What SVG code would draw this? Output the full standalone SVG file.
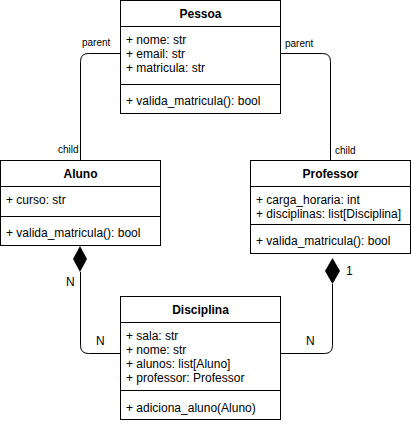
<svg xmlns="http://www.w3.org/2000/svg" width="411" height="424" viewBox="0 0 411 424">
<style>
.box{fill:#fff;stroke:#000;stroke-width:1}
.ln{stroke:#000;stroke-width:1;fill:none}
.t{font-family:"Liberation Sans",Arial,sans-serif;font-size:12px;fill:#000}
.h{font-family:"Liberation Sans",Arial,sans-serif;font-size:12px;font-weight:bold;fill:#000;text-anchor:middle}
.l{font-family:"Liberation Sans",Arial,sans-serif;font-size:10px;fill:#000}
.n{font-family:"Liberation Sans",Arial,sans-serif;font-size:12px;fill:#000}
</style>
<rect width="411" height="424" fill="#fff"/>
<g id="connectors">
<path class="ln" d="M120.5 53.5 H88.5 Q80.5 53.5 80.5 61.5 V160"/>
<path class="ln" d="M280.5 53.5 H322.5 Q330.5 53.5 330.5 61.5 V160"/>
<path class="ln" d="M80.5 272 V345.5 Q80.5 353.5 88.5 353.5 H120"/>
<path class="ln" d="M332.5 284 V345.5 Q332.5 353.5 324.5 353.5 H280"/>
<path d="M80 246 L87 259 L80 272 L73 259 Z" fill="#000"/>
<path d="M332.5 258 L340 271 L332.5 284 L325 271 Z" fill="#000"/>
<text class="l" x="82" y="46">parent</text>
<text class="l" x="285" y="47">parent</text>
<text class="l" x="58" y="153">child</text>
<text class="l" x="335" y="154">child</text>
<text class="n" x="66" y="286">N</text>
<text class="n" x="96" y="345">N</text>
<text class="n" x="306" y="345">N</text>
<text class="n" x="346" y="275">1</text>
</g>
<g id="Pessoa">
<rect class="box" x="120.5" y="0.5" width="160" height="113"/>
<line class="ln" x1="120.5" y1="26.5" x2="280.5" y2="26.5"/>
<line class="ln" x1="120.5" y1="84.5" x2="280.5" y2="84.5"/>
<text class="h" x="200.5" y="18">Pessoa</text>
<text class="t" x="126" y="44">+ nome: str</text>
<text class="t" x="126" y="58">+ email: str</text>
<text class="t" x="126" y="72">+ matricula: str</text>
<text class="t" x="126" y="105">+ valida_matricula(): bool</text>
</g>
<g id="Aluno">
<rect class="box" x="0.5" y="160.5" width="160" height="85"/>
<line class="ln" x1="0.5" y1="186.5" x2="160.5" y2="186.5"/>
<line class="ln" x1="0.5" y1="216.5" x2="160.5" y2="216.5"/>
<text class="h" x="80.5" y="178">Aluno</text>
<text class="t" x="6" y="204">+ curso: str</text>
<text class="t" x="6" y="237">+ valida_matricula(): bool</text>
</g>
<g id="Professor">
<rect class="box" x="250.5" y="160.5" width="160" height="93"/>
<line class="ln" x1="250.5" y1="186.5" x2="410.5" y2="186.5"/>
<line class="ln" x1="250.5" y1="224.5" x2="410.5" y2="224.5"/>
<text class="h" x="330.5" y="178">Professor</text>
<text class="t" x="256" y="204">+ carga_horaria: int</text>
<text class="t" x="256" y="218">+ disciplinas: list[Disciplina]</text>
<text class="t" x="256" y="245">+ valida_matricula(): bool</text>
</g>
<g id="Disciplina">
<rect class="box" x="120.5" y="296.5" width="160" height="123"/>
<line class="ln" x1="120.5" y1="322.5" x2="280.5" y2="322.5"/>
<line class="ln" x1="120.5" y1="390.5" x2="280.5" y2="390.5"/>
<text class="h" x="200.5" y="314">Disciplina</text>
<text class="t" x="126" y="340">+ sala: str</text>
<text class="t" x="126" y="354">+ nome: str</text>
<text class="t" x="126" y="368">+ alunos: list[Aluno]</text>
<text class="t" x="126" y="382">+ professor: Professor</text>
<text class="t" x="126" y="412">+ adiciona_aluno(Aluno)</text>
</g>
</svg>
